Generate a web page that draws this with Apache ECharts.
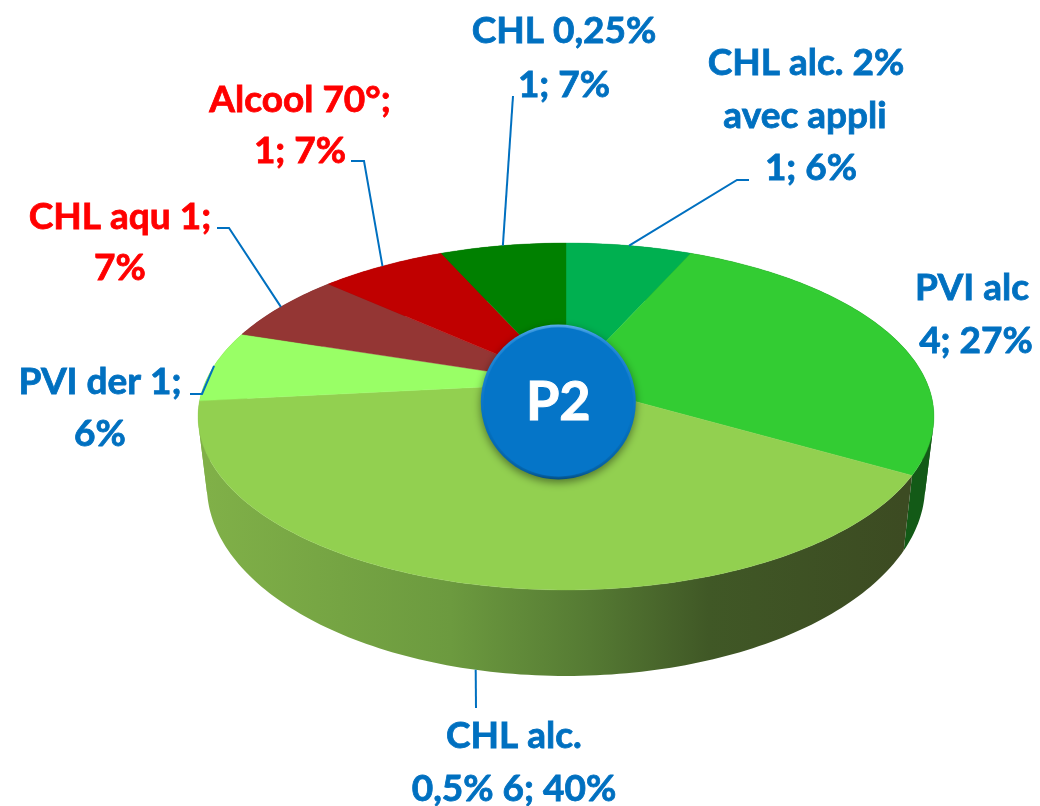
<!DOCTYPE html>
<html>
<head>
<meta charset="utf-8">
<style>html,body{margin:0;padding:0;background:#fff}#chart{width:1040px;height:806px}</style>
<script src="https://cdn.jsdelivr.net/npm/echarts@6/dist/echarts.min.js"></script>
</head>
<body>
<div id="chart"></div>
<script>
// ---- data ----
var categories = ['CHL alc. 2% avec appli', 'PVI alc', 'CHL alc. 0,5%', 'PVI der', 'CHL aqu', 'Alcool 70°', 'CHL 0,25%'];
var values = [1, 4, 6, 1, 1, 1, 1];
var labelLines = [
  ['CHL alc. 2%', 'avec appli', '1; 6%'],
  ['PVI alc', '4; 27%'],
  ['CHL alc.', '0,5% 6; 40%'],
  ['PVI der 1;', '6%'],
  ['CHL aqu 1;', '7%'],
  ['Alcool 70°;', '1; 7%'],
  ['CHL 0,25%', '1; 7%']
];
var centerText = 'P2';

// ---- styles and layout, kept apart from the data ----
var faceColors = ['#00B050', '#33CC33', '#92D050', '#99FF66', '#943634', '#C00000', '#008000'];
var labelColors = ['#0070C0', '#0070C0', '#0070C0', '#0070C0', '#FF0000', '#FF0000', '#0070C0'];
var labelAnchors = [
  [[806, 63], [805, 116], [811, 168]],
  [[972, 288], [976, 341]],
  [[514, 736], [514, 789]],
  [[100, 382], [100, 434]],
  [[120, 217], [120, 268]],
  [[300, 100], [300, 151]],
  [[564, 31], [564, 85]]
];
var leaderElbows = [
  [[737, 180], [749, 180]],
  null,
  [[476, 708]],
  [[202, 394], [190, 394]],
  [[229, 228], [217, 228]],
  [[364, 161], [351, 161]],
  [[513, 96]]
];
var FONT = 'Lato, "Open Sans", sans-serif';

// disc projection: a tilted circle seen in perspective
var cx = 566, apexY = 383, persp = 0.193, a = 361, b = 167;
var topCy = 416.5, topRy = 173.5, botCy = 486, botRy = 190, botScale = 0.976;

var total = values.reduce(function (s, v) { return s + v; }, 0);
var starts = [], acc = 0;
values.forEach(function (v) { starts.push(acc / total * 360); acc += v; });

function topPoint(deg) {
  var r = deg * Math.PI / 180, X = Math.sin(r), Z = Math.cos(r), d = 1 + persp * Z;
  return [cx + a * X / d, apexY - b * Z / d];
}
function botPoint(deg) {
  var p = topPoint(deg);
  return [cx + (p[0] - cx) * botScale, botCy + (p[1] - topCy) / topRy * botRy];
}
function arc(fn, from, to) {
  var pts = [], n = Math.max(2, Math.ceil(to - from));
  for (var i = 0; i <= n; i++) pts.push(fn(from + (to - from) * i / n));
  return pts;
}
function sweep(i) { return [starts[i], starts[i] + values[i] / total * 360]; }

var wallFills = [
  '#00762F', '#135A17',
  { type: 'linear', x: 207, y: 0, x2: 903, y2: 0, global: true, colorStops: [
    { offset: 0, color: '#80B048' }, { offset: 0.35, color: '#6C9A3F' },
    { offset: 0.55, color: '#557A33' }, { offset: 0.72, color: '#405826' }, { offset: 1, color: '#3C4B22' }] },
  '#80B048', '#6E2826', '#8F0000', '#005A00'
];

// The wall folds where it turns away from the viewer; each side of a fold is one polygon.
function renderWall(params, api) {
  var i = api.value(0), s = sweep(i);
  var t = arc(topPoint, s[0], s[1]), q = arc(botPoint, s[0], s[1]), kids = [];
  function side(k) {
    var dx = t[k + 1][0] - t[k][0], dy = t[k + 1][1] - t[k][1];
    return dx * (q[k][1] - t[k][1]) - dy * (q[k][0] - t[k][0]) >= 0;
  }
  var from = 0;
  for (var k = 0; k < t.length - 1; k++) {
    if (k === t.length - 2 || side(k) !== side(k + 1)) {
      var pts = t.slice(from, k + 2).concat(q.slice(from, k + 2).reverse());
      kids.push({ type: 'polygon', shape: { points: pts }, style: { fill: wallFills[i] } });
      from = k + 1;
    }
  }
  return { type: 'group', children: kids };
}
function renderFace(params, api) {
  var i = api.value(0), s = sweep(i);
  var pts = [[cx, apexY]].concat(arc(topPoint, s[0], s[1]));
  return { type: 'polygon', shape: { points: pts },
    style: { fill: faceColors[i], stroke: faceColors[i], lineWidth: 0.4 } };
}
function renderLabel(params, api) {
  var i = api.value(0), s = sweep(i), mid = (s[0] + s[1]) / 2, kids = [];
  if (leaderElbows[i]) {
    var start = (mid > 90 && mid < 270) ? botPoint(mid) : topPoint(mid);
    kids.push({ type: 'polyline', shape: { points: [start].concat(leaderElbows[i]) },
      style: { fill: null, stroke: '#0070C0', lineWidth: 2 } });
  }
  labelLines[i].forEach(function (line, k) {
    kids.push({ type: 'text', style: { text: line, x: labelAnchors[i][k][0], y: labelAnchors[i][k][1],
      fill: labelColors[i], stroke: labelColors[i], lineWidth: 0.8,
      font: 'bold 37px ' + FONT, align: 'center', verticalAlign: 'middle' } });
  });
  return { type: 'group', children: kids };
}
function renderHub() {
  var hx = 558.3, hy = 402;
  return { type: 'group', children: [
    { type: 'circle', shape: { cx: hx, cy: hy, r: 77.5 },
      style: { fill: { type: 'linear', x: 0, y: 0, x2: 0, y2: 1, colorStops: [
        { offset: 0, color: '#5AB0EE' }, { offset: 0.1, color: '#2A8EDC' }, { offset: 0.6, color: '#0572C2' },
        { offset: 0.95, color: '#055E9F' }, { offset: 1, color: '#034C80' }] },
        shadowBlur: 8, shadowColor: 'rgba(0,0,0,0.45)', shadowOffsetY: 3 } },
    { type: 'circle', shape: { cx: hx, cy: hy, r: 74.5 },
      style: { fill: '#0575C8', shadowBlur: 3, shadowColor: '#0575C8' } },
    { type: 'text', style: { text: centerText, x: hx, y: hy + 1, fill: '#FFFFFF', stroke: '#FFFFFF', lineWidth: 1,
      font: 'bold 54px ' + FONT, align: 'center', verticalAlign: 'middle' } }
  ] };
}

var indexData = categories.map(function (c, i) { return { name: c, value: [i, values[i]] }; });
var chart = echarts.init(document.getElementById('chart'), null, { renderer: 'canvas' });
chart.setOption({
  animation: false,
  backgroundColor: '#FFFFFF',
  tooltip: { show: false },
  series: [
    { type: 'custom', coordinateSystem: 'none', renderItem: renderWall, data: indexData, silent: true, z: 1 },
    { type: 'custom', coordinateSystem: 'none', renderItem: renderFace, data: indexData, silent: true, z: 2 },
    { type: 'custom', coordinateSystem: 'none', renderItem: renderLabel, data: indexData, silent: true, z: 3 },
    { type: 'custom', coordinateSystem: 'none', renderItem: renderHub, data: [[0]], silent: true, z: 4 }
  ]
});
</script>
</body>
</html>
